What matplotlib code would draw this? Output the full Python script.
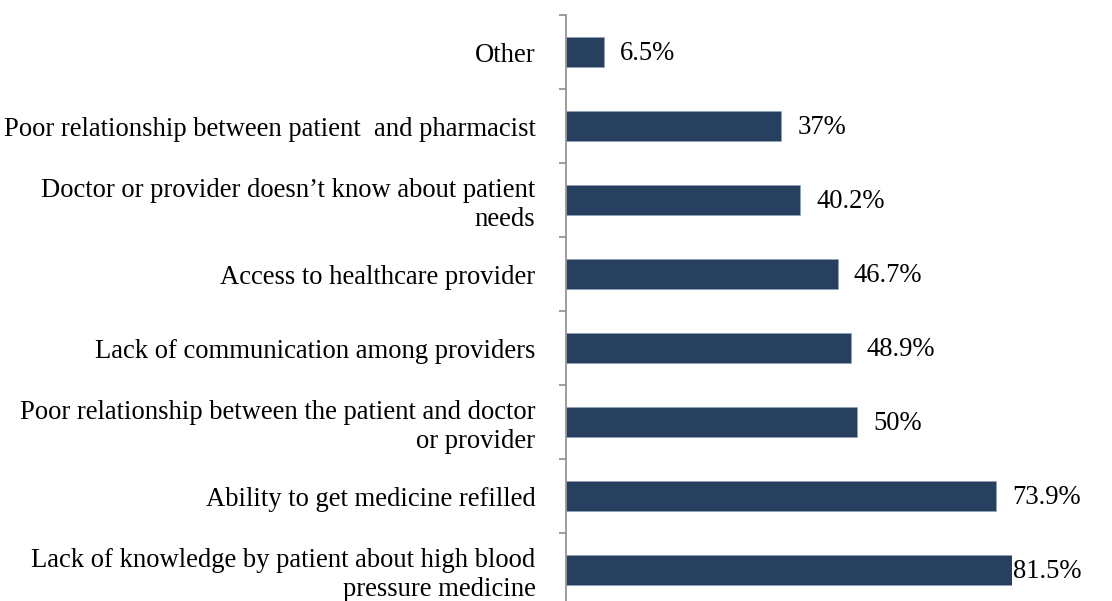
import numpy as np
import matplotlib.pyplot as plt
from matplotlib.ticker import FixedLocator

# Reasons for poor blood pressure medication adherence (% of respondents)
categories = [
    "Other",
    "Poor relationship between patient  and pharmacist",
    "Doctor or provider doesn\u2019t know about patient\nneeds",
    "Access to healthcare provider",
    "Lack of communication among providers",
    "Poor relationship between the patient and doctor\nor provider",
    "Ability to get medicine refilled",
    "Lack of knowledge by patient about high blood\npressure medicine",
]
percentages = [6.5, 37, 40.2, 46.7, 48.9, 50, 73.9, 81.5]

bar_color = "#27405f"
axis_color = "#8c8c8c"
x_max = 76.6
fs = 19.2

plt.rcParams["font.family"] = ["Liberation Serif", "DejaVu Serif"]

fig = plt.figure(figsize=(11.12, 6.01), dpi=100)
ax = fig.add_axes([566 / 1112, -6 / 601, 446 / 1112, 592 / 601])

y = np.arange(len(categories))
ax.barh(y, percentages, height=0.4, color=bar_color, edgecolor="#8fa3bd", linewidth=0.4)

ax.set_xlim(0, x_max)
ax.set_ylim(len(categories) - 0.5, -0.5)

# value labels outside the bar end (clipped bars get the label at the edge)
for yi, v in zip(y, percentages):
    xpos = min(v, x_max)
    off = 11.5 if v <= x_max else 0.8
    ax.annotate(f"{v:g}%", (xpos, yi), xytext=(off, -1), textcoords="offset points",
                ha="left", va="center", fontsize=fs, color="black",
                annotation_clip=False)

ax.set_yticks(y)
ax.set_yticklabels(categories, fontsize=fs, ha="right", linespacing=1.19)
ax.yaxis.set_minor_locator(FixedLocator(np.arange(-0.5, len(categories) + 0.5, 1)))
ax.tick_params(axis="y", which="major", length=0, pad=22)
ax.tick_params(axis="y", which="minor", length=5, width=1.2, color=axis_color, direction="out")

ax.set_xticks([])
for side in ["top", "right", "bottom"]:
    ax.spines[side].set_visible(False)
ax.spines["left"].set_color(axis_color)
ax.spines["left"].set_linewidth(1.2)

fig.savefig("out.png", dpi=100)
